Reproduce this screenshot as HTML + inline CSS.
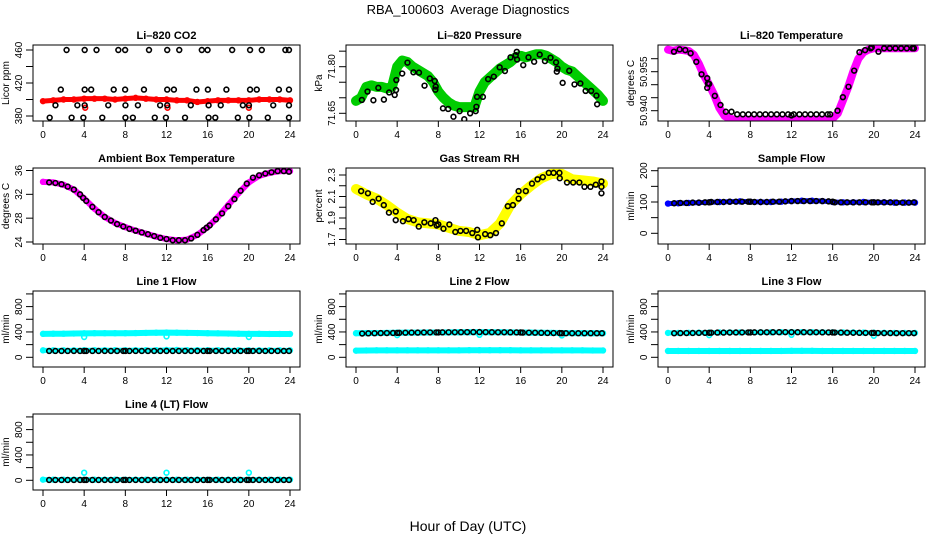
<!DOCTYPE html>
<html><head><meta charset="utf-8"><style>
html,body{margin:0;padding:0;background:#fff;}
svg{display:block;font-family:"Liberation Sans",sans-serif;}
</style></head><body>
<svg id="chart" width="936" height="540" viewBox="0 0 936 540" xmlns="http://www.w3.org/2000/svg">
<text x="468" y="14" text-anchor="middle" font-size="13" style="white-space:pre">RBA_100603  Average Diagnostics</text>
<text x="468" y="531" text-anchor="middle" font-size="14">Hour of Day (UTC)</text>
</svg>
<script>
// ---------- data ----------
const HOURS = [0,1,2,3,4,5,6,7,8,9,10,11,12,13,14,15,16,17,18,19,20,21,22,23,24];
const HALF = [0,0.5,1,1.5,2,2.5,3,3.5,4,4.5,5,5.5,6,6.5,7,7.5,8,8.5,9,9.5,10,10.5,11,11.5,12,12.5,13,13.5,14,14.5,15,15.5,16,16.5,17,17.5,18,18.5,19,19.5,20,20.5,21,21.5,22,22.5,23,23.5,24];
const BLK_HOURS = [0.6,1.2,1.8,2.4,3.0,3.6,4.0,4.2,4.8,5.4,6.0,6.6,7.2,7.8,8.0,8.4,9.0,9.6,10.2,10.8,11.4,12.0,12.6,13.2,13.8,14.4,15.0,15.6,16.0,16.2,16.8,17.4,18.0,18.6,19.2,19.8,20.0,20.4,21.0,21.6,22.2,22.8,23.4,23.9];

// CO2
const co2Red = [398,399,400,400,401,401,401,400,401,402,401,400,400,399,399,397,398,399,399,399,399,400,400,400,399];
const co2RedOutHours = [4.1,12.1,20.0];
const co2RedOut = [390,390,390];
const co2BlkHours = [2.29,4.05,5.2,7.32,7.98,10.3,12.07,13.24,15.43,15.99,18.38,20.12,21.26,23.55,23.9,
 1.73,4.05,4.68,6.87,7.98,9.81,12.07,12.72,14.91,16.02,17.82,20.12,20.77,22.92,23.9,
 1.21,3.34,4.05,6.34,8.01,9.22,11.38,12.07,14.36,16.09,17.27,19.42,20.01,22.37,23.9,
 0.65,2.78,3.92,5.76,8.01,8.73,10.86,11.94,13.8,16.09,16.74,18.93,20.05,21.84,23.9];
const co2Blk = [460,460,460,460,460,460,460,460,460,460,460,460,460,460,460,
 412,412,412,412,412,412,412,412,412,412,412,412,412,412,412,
 393,393,393,393,393,393,393,393,393,393,393,393,393,393,393,
 378,378,378,378,378,378,378,378,378,378,378,378,378,378,378];

// Pressure
const presGreen = [71.69,71.70,71.735,71.74,71.735,71.735,71.73,71.735,71.80,71.82,71.815,71.80,71.79,71.78,71.77,71.75,71.72,71.70,71.685,71.675,71.67,71.67,71.67,71.67,71.72,71.75,71.765,71.78,71.795,71.805,71.815,71.83,71.835,71.83,71.835,71.84,71.84,71.835,71.825,71.815,71.80,71.79,71.785,71.77,71.755,71.74,71.725,71.71,71.69];
const presBlkHours = [0.57,1.12,1.69,2.17,2.71,3.22,3.76,3.89,3.92,4.49,5.0,5.58,6.12,6.66,7.17,7.65,7.74,7.71,8.45,8.96,9.47,10.07,10.52,11.09,11.63,11.7,11.76,12.33,12.84,13.39,13.96,14.47,15.01,15.52,15.62,15.65,16.25,16.76,17.31,17.85,18.36,18.9,19.44,19.51,19.57,20.08,20.72,21.23,21.8,22.31,22.85,23.36,23.43];
const presBlk = [71.693,71.720,71.692,71.732,71.694,71.717,71.709,71.725,71.757,71.778,71.813,71.782,71.781,71.739,71.762,71.754,71.736,71.726,71.666,71.664,71.639,71.657,71.631,71.65,71.657,71.671,71.703,71.703,71.760,71.768,71.798,71.786,71.830,71.837,71.848,71.823,71.805,71.830,71.816,71.839,71.818,71.829,71.814,71.784,71.794,71.748,71.787,71.743,71.746,71.722,71.722,71.707,71.679];

// Li-820 temperature
const tempMag = [50.9635,50.963,50.9635,50.9633,50.963,50.9615,50.958,50.9535,50.950,50.946,50.941,50.938,50.937,
 50.9365,50.9365,50.9365,50.9365,50.9365,50.9365,50.9365,50.9365,50.9365,50.9365,50.9365,50.9365,50.9365,50.9365,50.9365,50.9365,50.9365,50.9365,50.9365,
 50.937,50.939,50.944,50.949,50.955,50.960,50.9625,50.9635,
 50.964,50.964,50.964,50.964,50.964,50.964,50.964,50.964,50.964];
const tempBlkHours = [0.58,1.13,1.68,2.2,2.75,3.26,3.81,3.88,3.81,4.0,4.55,5.1,5.62,6.17,
 6.72,7.27,7.82,8.37,8.92,9.47,10.02,10.57,11.12,11.67,12.0,12.22,12.77,13.32,13.87,14.42,14.97,15.52,15.76,
 16.47,16.99,17.54,18.09,18.6,19.15,19.7,19.8,20.45,21.0,
 21.55,22.1,22.65,23.2,23.75,23.9];
const tempBlk = [50.9627,50.9636,50.9633,50.9621,50.9588,50.9540,50.9525,50.9505,50.9488,50.9503,50.9457,50.9422,50.9396,50.9396,
 50.9386,50.9386,50.9386,50.9386,50.9386,50.9386,50.9386,50.9386,50.9386,50.9386,50.9382,50.9386,50.9386,50.9386,50.9386,50.9386,50.9386,50.9386,50.9386,
 50.940,50.9452,50.9492,50.9554,50.9625,50.9633,50.9640,50.9644,50.9627,50.9640,
 50.964,50.964,50.964,50.964,50.964,50.964];

// Ambient box temperature
const ambMag = [34.1,34.0,33.6,32.8,31.3,29.6,28.2,27.2,26.5,25.9,25.4,24.9,24.5,24.3,24.4,25.2,26.5,28.2,30.2,32.2,34.0,35.1,35.6,35.9,35.9];
const ambBlkHours = [0.6,1.2,1.8,2.4,3.0,3.6,3.9,4.2,4.8,5.4,6.0,6.6,7.2,7.8,8.4,9.0,9.6,10.2,10.8,11.4,12.0,12.6,13.2,13.8,14.4,15.0,15.6,15.9,16.2,16.8,17.4,18.0,18.6,19.2,19.8,20.4,21.0,21.6,22.2,22.8,23.4,23.9];
const ambBlk = [34.0,33.9,33.7,33.3,32.8,32.0,31.4,30.9,29.9,29.0,28.2,27.6,27.0,26.6,26.2,25.9,25.6,25.3,25.0,24.7,24.5,24.3,24.3,24.3,24.6,25.2,26.0,26.4,26.8,27.8,28.8,30.0,31.2,32.6,33.8,34.8,35.2,35.5,35.7,35.9,35.9,35.8];

// Gas stream RH
const rhYel = [2.17,2.12,2.08,2.02,1.95,1.89,1.86,1.85,1.84,1.81,1.78,1.77,1.74,1.76,1.85,2.02,2.12,2.20,2.27,2.31,2.31,2.26,2.25,2.24,2.22];
const rhBlkHours = [0.5,1.16,1.62,2.2,2.7,3.2,3.86,3.86,4.56,5.1,5.6,6.1,6.64,7.26,7.72,7.84,8.0,8.5,9.07,9.65,10.15,10.7,11.3,11.78,11.85,12.55,13.05,13.6,14.17,14.75,15.25,15.8,15.8,16.5,17.1,17.64,18.15,18.73,19.2,19.77,19.8,20.5,21.1,21.7,22.2,22.78,23.3,23.85,23.85,23.85];
const rhBlk = [2.15,2.13,2.05,2.08,2.02,1.95,1.96,1.88,1.87,1.89,1.88,1.82,1.86,1.85,1.88,1.83,1.84,1.80,1.84,1.77,1.78,1.78,1.76,1.79,1.72,1.75,1.74,1.76,1.85,2.01,2.02,2.15,2.08,2.15,2.22,2.26,2.28,2.32,2.32,2.32,2.27,2.23,2.23,2.23,2.19,2.19,2.21,2.19,2.24,2.13];

// Sample flow
const sfBlue = [95,96,97,98,99,100,101,102,101,100,100,101,103,104,104,103,100,99,99,100,99,99,98,98,98];
const sfBlk = [96,97,97,98,98,99,99,100,100,100,101,101,101,101,101,100,100,100,101,101,102,103,103,103,103,103,103,102,101,99,99,99,99,99,99,99,99,99,99,99,98,98,98,99];

// Line flows
const l1CyanHigh = [370,372,372,375,378,380,380,380,380,382,385,388,390,388,385,383,380,378,375,372,370,370,368,368,368];
const l1CyanLow = [110,110,110,110,112,112,112,112,112,112,112,112,115,115,112,112,112,112,110,110,110,110,110,110,110];
const l1Blk = [100,100,100,100,100,100,100,100,100,100,100,100,100,100,100,100,100,100,100,100,100,100,100,100,100,100,100,100,100,100,100,100,100,100,100,100,100,100,100,100,100,100,100,100];
const l1OutHours = [4,12,20];
const l1Out = [320,330,320];

const l2CyanHigh = [380,382,383,385,388,390,390,392,392,393,395,396,398,396,395,393,392,390,388,385,383,382,380,380,380];
const l2CyanLow = [105,108,110,110,110,110,110,110,110,110,110,112,112,112,112,112,110,110,110,110,110,110,110,108,108];
const l2Blk = [375,378,380,382,383,384,385,386,388,390,390,392,393,393,393,394,395,395,396,397,398,398,397,396,395,395,394,393,392,390,389,388,386,384,383,382,380,380,380,380,380,380,380,380];
const l2OutHours = [4,12,20];
const l2Out = [350,355,345];

const l3CyanHigh = [385,385,386,388,390,392,393,393,393,394,395,396,398,397,396,395,394,393,392,390,388,386,385,385,385];
const l3CyanLow = [100,100,100,100,100,100,100,100,100,100,100,100,102,102,102,100,100,100,100,100,100,100,100,100,100];
const l3Blk = [380,382,383,384,385,386,387,388,390,390,391,392,393,393,393,394,395,395,396,396,397,397,396,396,395,395,394,393,392,391,390,388,387,386,385,384,384,383,382,382,381,381,381,381];
const l3OutHours = [4,12,20];
const l3Out = [350,355,340];

const l4Cyan = [10,10,10,10,10,10,10,10,10,10,10,10,10,10,10,10,10,10,10,10,10,10,10,10,10];
const l4Blk = [5,5,5,5,5,5,5,5,5,5,5,5,5,5,5,5,5,5,5,5,5,5,5,5,5,5,5,5,5,5,5,5,5,5,5,5,5,5,5,5,5,5,5,5];
const l4OutHours = [4,12,20];
const l4Out = [120,120,120];

const X_TICKS = [0,4,8,12,16,20,24];

// ---------- drawing ----------
const NS = 'http://www.w3.org/2000/svg';
const svg = document.getElementById('chart');
const defs = document.createElementNS(NS,'defs');
svg.appendChild(defs);
function mk(tag, parent){ const e=document.createElementNS(NS,tag); parent.appendChild(e); return e; }
function set(e,o){ for(const k in o) e.setAttribute(k,o[k]); return e; }

const COLS=[33,346,658], ROWS=[45,168,291,414], PW=267, PH=76;
let pid=0;
function panel(o){
  pid++;
  const L=COLS[o.col], T=ROWS[o.row];
  const g=mk('g',svg);
  
  
  const sx=h=>L+10+h*(247/24);
  const sy=v=>o.py1+(v-o.v1)*(o.py2-o.py1)/(o.v2-o.v1);
  const cp=mk('clipPath',defs); cp.setAttribute('id','cp'+pid);
  set(mk('rect',cp),{x:L,y:T,width:PW,height:PH});
  const t=mk('text',g);
  
  
  set(t,{x:L+PW/2,y:T-6,'text-anchor':'middle','font-size':'11','font-weight':'bold'}); t.textContent=o.title;
  X_TICKS.forEach(h=>{
    const tk=mk('line',g);
    
    
    set(tk,{x1:sx(h),x2:sx(h),y1:T+PH,y2:T+PH+6,stroke:'#000','stroke-width':1});
    const lb=mk('text',g);
    
    
    set(lb,{x:sx(h),y:T+PH+17,'text-anchor':'middle','font-size':'10'}); lb.textContent=h;
  });
  o.ticks.forEach(v=>{
    const y=sy(v); if(y<T-1||y>T+PH+1) return;
    const tk=mk('line',g);
    
    
    set(tk,{x1:L-7,x2:L,y1:y,y2:y,stroke:'#000','stroke-width':1});
  });
  o.labels.forEach(v=>{
    const y=sy(v);
    const lb=mk('text',g);
    
    
    set(lb,{x:0,y:0,transform:`translate(${L-11},${y}) rotate(-90)`,'text-anchor':'middle','font-size':'10'});
    lb.textContent=o.fmt?o.fmt(v):v;
  });
  const yl=mk('text',g);
  
  
  set(yl,{x:0,y:0,transform:`translate(${L-24},${T+PH/2}) rotate(-90)`,'text-anchor':'middle','font-size':'10'}); yl.textContent=o.ylab;
  const dg=mk('g',g); dg.setAttribute('clip-path',`url(#cp${pid})`);
  return {g,dg,sx,sy,L,T};
}
function box(p){
  const r=mk('rect',p.g);
  
  
  set(r,{x:p.L,y:p.T,width:PW,height:PH,fill:'none',stroke:'#000','stroke-width':1});
}
function band(p,xs,ys,color,w,name){
  const pl=mk('polyline',p.dg);
  
  
  set(pl,{points:xs.map((x,i)=>p.sx(x)+','+p.sy(ys[i])).join(' '),fill:'none',stroke:color,'stroke-width':w,'stroke-linejoin':'round','stroke-linecap':'round'});
  pts(p,xs,ys,color,name+'-point');
}
function pts(p,xs,ys,color,name){
  xs.forEach((x,i)=>{
    const c=mk('circle',p.dg);
    
    
    set(c,{cx:p.sx(x),cy:p.sy(ys[i]),r:2.4,fill:'none',stroke:color,'stroke-width':1.6});
  });
}

let p=panel({name:'co2-panel',col:0,row:0,title:'Li\u2013820 CO2',ylab:'Licor ppm',v1:380,py1:116,v2:460,py2:50,ticks:[380,400,420,440,460],labels:[380,420,460]});
band(p,HOURS,co2Red,'#ff0000',5,'co2-red-series');
pts(p,co2RedOutHours,co2RedOut,'#ff0000','co2-red-outlier');
pts(p,co2BlkHours,co2Blk,'#000','co2-black-point');
box(p);

p=panel({name:'pressure-panel',col:1,row:0,title:'Li\u2013820 Pressure',ylab:'kPa',v1:71.65,py1:113.3,v2:71.80,py2:66.7,ticks:[71.65,71.70,71.75,71.80,71.85],labels:[71.65,71.80],fmt:v=>v.toFixed(2)});
band(p,HALF,presGreen,'#00cc00',10,'pressure-green-series');
pts(p,presBlkHours,presBlk,'#000','pressure-black-point');
box(p);

p=panel({name:'licor-temperature-panel',col:2,row:0,title:'Li\u2013820 Temperature',ylab:'degrees C',v1:50.940,py1:110.7,v2:50.955,py2:71.7,ticks:[50.935,50.940,50.945,50.950,50.955,50.960],labels:[50.940,50.955],fmt:v=>v.toFixed(3)});
band(p,HALF,tempMag,'#ff00ff',8,'temperature-magenta-series');
pts(p,tempBlkHours,tempBlk,'#000','temperature-black-point');
box(p);

p=panel({name:'ambient-temperature-panel',col:0,row:1,title:'Ambient Box Temperature',ylab:'degrees C',v1:24,py1:242,v2:36,py2:170.5,ticks:[24,28,32,36],labels:[24,28,32,36]});
band(p,HOURS,ambMag,'#ff00ff',6,'ambient-magenta-series');
pts(p,ambBlkHours,ambBlk,'#000','ambient-black-point');
box(p);

p=panel({name:'rh-panel',col:1,row:1,title:'Gas Stream RH',ylab:'percent',v1:1.7,py1:239.5,v2:2.3,py2:175,ticks:[1.7,1.8,1.9,2.0,2.1,2.2,2.3],labels:[1.7,1.9,2.1,2.3],fmt:v=>v.toFixed(1)});
band(p,HOURS,rhYel,'#ffff00',10,'rh-yellow-series');
pts(p,rhBlkHours,rhBlk,'#000','rh-black-point');
box(p);

p=panel({name:'sample-flow-panel',col:2,row:1,title:'Sample Flow',ylab:'ml/min',v1:0,py1:233.3,v2:200,py2:170.7,ticks:[0,50,100,150,200],labels:[0,100,200]});
band(p,HOURS,sfBlue,'#0000ff',5,'sample-flow-blue-series');
pts(p,BLK_HOURS,sfBlk,'#000','sample-flow-black-point');
box(p);

const flowTicks=[0,200,400,600,800,1000], flowLabels=[0,400,800];
function flowPanel(name,col,row,title){
  const base=ROWS[row];
  return panel({name,col,row,title,ylab:'ml/min',v1:0,py1:base+66.3,v2:800,py2:base+15.6,ticks:flowTicks,labels:flowLabels});
}
p=flowPanel('line1-flow-panel',0,2,'Line 1 Flow');
band(p,HOURS,l1CyanHigh,'#00ffff',6,'line1-cyan-high');
band(p,HOURS,l1CyanLow,'#00ffff',5,'line1-cyan-low');
pts(p,l1OutHours,l1Out,'#00ffff','line1-cyan-outlier');
pts(p,BLK_HOURS,l1Blk,'#000','line1-black-point');
box(p);

p=flowPanel('line2-flow-panel',1,2,'Line 2 Flow');
band(p,HOURS,l2CyanHigh,'#00ffff',6,'line2-cyan-high');
band(p,HOURS,l2CyanLow,'#00ffff',6,'line2-cyan-low');
pts(p,l2OutHours,l2Out,'#00ffff','line2-cyan-outlier');
pts(p,BLK_HOURS,l2Blk,'#000','line2-black-point');
box(p);

p=flowPanel('line3-flow-panel',2,2,'Line 3 Flow');
band(p,HOURS,l3CyanHigh,'#00ffff',5,'line3-cyan-high');
band(p,HOURS,l3CyanLow,'#00ffff',6,'line3-cyan-low');
pts(p,l3OutHours,l3Out,'#00ffff','line3-cyan-outlier');
pts(p,BLK_HOURS,l3Blk,'#000','line3-black-point');
box(p);

p=flowPanel('line4-flow-panel',0,3,'Line 4 (LT) Flow');
band(p,HOURS,l4Cyan,'#00ffff',5,'line4-cyan-series');
pts(p,l4OutHours,l4Out,'#00ffff','line4-cyan-outlier');
pts(p,BLK_HOURS,l4Blk,'#000','line4-black-point');
box(p);
</script>
</body></html>
